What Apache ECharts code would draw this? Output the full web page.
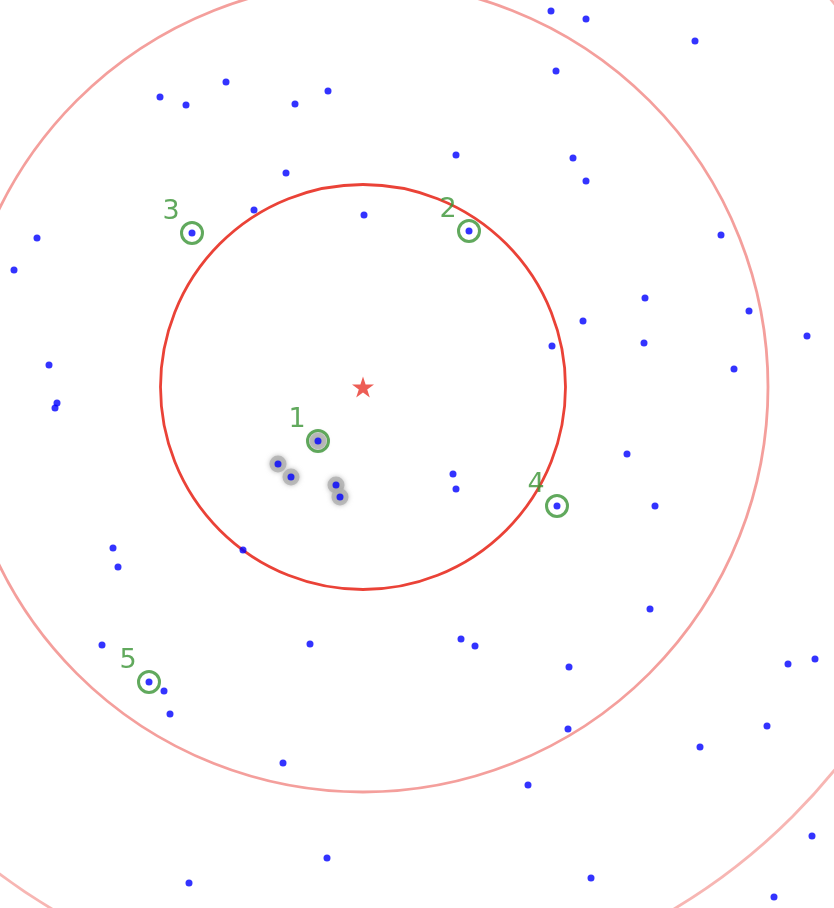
<!DOCTYPE html>
<html>
<head>
<meta charset="utf-8">
<script src="https://cdn.jsdelivr.net/npm/echarts@6/dist/echarts.min.js"></script>
<style>
html,body{margin:0;padding:0;background:#fff;}
#chart{width:834px;height:908px;}
</style>
</head>
<body>
<div id="chart"></div>
<script>
// Query point (star) at origin; all coordinates relative to it
const queryPoint = [0, 0];
// Ring radii (1x, 2x, 3x of the k-th neighbour distance)
const ringRadii = [202.5, 405, 607.5];
// All data points
const pointsX = [-203,-177,-137,-68,-77,-109,-171,-326,-349,-364,188,193,-35,93,210,1,106,223,332,223,358,282,386,220,281,444,371,189,-314,-364,-306,-308,-250,-245,-120,-45,-85,-72,-27,-23,-261,-214,-199,-193,-53,-80,-36,-174,90,93,194,264,292,287,98,112,206,205,165,228,337,404,449,411,425,452];
const pointsY = [290,282,305,283,214,177,154,149,117,105,376,316,296,232,229,172,156,368,346,206,152,89,76,66,44,51,18,41,22,3,-16,-21,-161,-180,-163,-54,-77,-90,-98,-110,-258,-295,-304,-327,-257,-376,-471,-496,-87,-102,-119,-67,-119,-222,-252,-259,-280,-342,-398,-491,-360,-339,-449,-510,-277,-272];
// Nearest neighbours (grey halo)
const neighborsX = [-45,-85,-72,-27,-23];
const neighborsY = [-54,-77,-90,-98,-110];
// Labelled candidate points (green circles)
const candidateLabels = ['1','2','3','4','5'];
const candidatesX = [-45,106,-171,194,-214];
const candidatesY = [-54,156,154,-119,-295];

const ringColors = ['rgba(232,50,38,0.92)','rgba(235,80,75,0.55)','rgba(235,80,75,0.42)'];
const green = '#3a9434';

const starPath = 'path://M50,0L61.23,34.55L97.55,34.55L68.17,55.9L79.39,90.45L50,69.1L20.61,90.45L31.83,55.9L2.45,34.55L38.77,34.55Z';

const chart = echarts.init(document.getElementById('chart'));
chart.setOption({
  animation: false,
  backgroundColor: '#ffffff',
  grid: {left: 0, right: 0, top: 0, bottom: 0},
  xAxis: {type: 'value', min: -363, max: 471, show: false},
  yAxis: {type: 'value', min: -521, max: 387, show: false},
  series: [
    {
      type: 'custom',
      z: 1,
      silent: true,
      data: ringRadii.map(r => [queryPoint[0], queryPoint[1], r]),
      renderItem: function (params, api) {
        const c = api.coord([api.value(0), api.value(1)]);
        const r = api.size([api.value(2), 0])[0];
        return {
          type: 'circle',
          shape: {cx: c[0], cy: c[1], r: r},
          style: {fill: 'none', stroke: ringColors[params.dataIndex], lineWidth: 2.8}
        };
      }
    },
    {
      type: 'scatter',
      z: 2,
      silent: true,
      symbol: 'circle',
      symbolSize: 17,
      itemStyle: {color: '#b0b0b0', shadowBlur: 5, shadowColor: 'rgba(150,150,150,0.8)'},
      data: neighborsX.map((x, i) => [x, neighborsY[i]])
    },
    {
      type: 'scatter',
      z: 3,
      silent: true,
      symbol: 'circle',
      symbolSize: 7,
      itemStyle: {color: '#0000ff'},
      data: pointsX.map((x, i) => [x, pointsY[i]])
    },
    {
      type: 'scatter',
      z: 4,
      silent: true,
      symbol: 'circle',
      symbolSize: 21,
      itemStyle: {color: 'rgba(0,0,0,0)', borderColor: green, borderWidth: 3},
      label: {
        show: true,
        formatter: p => p.value[2],
        position: [-9, -9],
        align: 'center',
        verticalAlign: 'middle',
        color: green,
        fontSize: 27,
        fontFamily: 'DejaVu Sans'
      },
      data: candidatesX.map((x, i) => [x, candidatesY[i], candidateLabels[i]])
    },
    {
      type: 'scatter',
      z: 5,
      silent: true,
      symbol: starPath,
      symbolKeepAspect: true,
      symbolSize: 22,
      itemStyle: {color: '#e8342a'},
      data: [queryPoint]
    }
  ]
});
</script>
</body>
</html>
